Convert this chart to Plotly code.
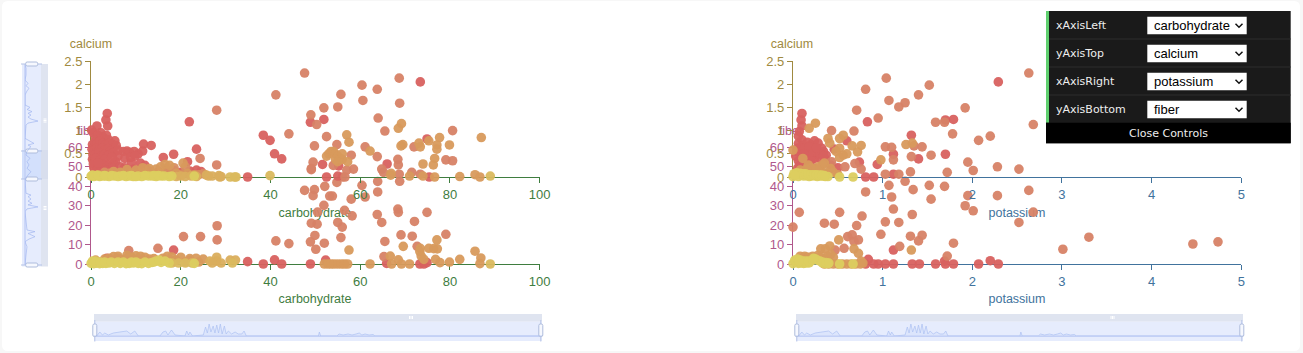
import plotly.graph_objects as go

# ---------- data: (x, y, tone) ; tone 0 red .. 3 gold ----------
left_top = [
 (3.6,1.37,0),(3.3,1.23,0),(3.7,1.10,0),(1.3,1.10,0),(.1,1.01,0),(2,.87,0),(5.3,.78,0),(11.7,.71,0),(13.4,.68,0),
 (.5,.95,0),(1,.85,0),(1.5,.9,0),(2.2,.95,0),(2.8,.85,0),(3.4,.9,0),(3.9,.8,0),(.3,.7,0),(.8,.75,0),(1.4,.72,0),(2,.78,0),
 (2.6,.72,0),(3.2,.7,0),(4,.72,0),(4.8,.7,0),(5.6,.68,0),(.2,.6,0),(.7,.58,0),(1.3,.62,0),(1.9,.6,0),(2.5,.62,0),(3.1,.58,0),
 (3.7,.6,0),(4.3,.55,0),(.4,.48,0),(1.1,.5,0),(1.8,.52,0),(2.4,.45,0),(3,.48,0),(3.8,.46,0),(.3,.38,0),(1,.4,0),(2,.36,0),(3,.38,0),
 (7.2,.55,0),(8,.56,0),(8.6,.53,0),(9.6,.55,0),(10.5,.5,0),(11.5,.56,0),(7.5,.4,0),(8.8,.42,0),(9.8,.45,0),(3,.27,0),(.6,.2,0),
 (4,.25,0),(5,.3,0),(5.5,.33,0),(11,.3,0),(12,.25,0),(9,.3,0),(18.5,.14,0),(20,.1,0),(21.5,.33,0),(22,.13,0),(23.5,.15,0),(24.5,.12,0),
 (21.9,1.19,0),(23.5,.6,0),(16.1,.42,0),(18.4,.49,0),(34.9,0,0),(38.4,.9,0),(39.9,.79,0),(40.9,.5,0),(42.5,.39,0),(48.9,1.18,0),(51.9,1.24,0),
 (73.4,2.05,0),(74.9,.82,0),(66,.28,0),(55.2,.24,0),(55,.02,0),(73.2,-.01,0),(75.4,0,0),(52.5,0,0),(51.6,.27,0),
 (.5,.28,0),(1.5,.22,0),(2.5,.18,0),(3.5,.15,0),(1,.12,0),(2,.1,0),(5,.2,0),(6.5,.22,0),(7.5,.2,0),(9.5,.17,0),(11,.18,0),(13,.13,0),(15,.12,0),(17,.1,0),(6,.45,0),(5,.52,0),(6,.58,0),(4.6,.42,0),(1.5,.3,0),
 (28,1.44,1),(24.3,.4,1),(28,.26,1),(47.6,2.24,1),(41.2,1.77,1),(44.1,.93,1),(49,1.34,1),(51.9,1.49,1),(50.3,1.13,1),(52.5,.87,1),(49.8,.67,1),(49.5,.32,1),(49.1,.18,1),
 (68.7,2.13,1),(60.4,1.98,1),(63.8,1.89,1),(55.7,1.78,1),(60.6,1.65,1),(68.8,1.59,1),(55,1.51,1),(64,1.27,1),(65.5,.99,1),(80.6,1,1),(54.8,.7,1),(61.1,.65,1),
 (63.8,.44,1),(58,.47,1),(72,.65,1),(79.1,.37,1),(80.6,.35,1),(68.4,.38,1),(68.5,.26,1),(64.8,.17,1),(65.2,.1,1),(68.7,.06,1),(71.5,.1,1),(73.4,.06,1),
 (58.5,.17,1),(57,.15,1),(56.6,0,1),(54,.25,1),
 (3,.1,1.5),(4,.08,1.5),(7,.08,1.5),(9,.08,1.5),(12,.09,1.5),(14,.06,1.5),(16,.08,1.5),(18,.06,1.5),(20,.05,1.5),(24,.05,1.5),(25,.07,1.5),(17,.15,1.5),(18.5,.2,1.5),(21,.22,1.5),
 (5,.12,2),(8,.16,2),(10,.15,2),(11.5,.2,2),(13,.18,2),(14.5,.17,2),(15.5,.22,2),(16.5,.27,2),(17.5,.25,2),(20.5,.3,2),(6.5,.1,2),(19,.08,2),(21.5,.08,2),(23,.05,2),
 (69.2,1.15,2),(68.5,1.05,2),(87,.85,2),(57,.91,2),(57.5,.75,2),(62.2,.56,2),(69.5,.7,2),(69.1,.67,2),(73.4,.65,2),(73.1,.73,2),(75.3,.78,2),(77.7,.85,2),(77.1,.69,2),(79.9,.69,2),(77.1,.6,2),
 (76.6,.4,2),(76.3,.26,2),(74,.28,2),(66.9,.08,2),(66.8,.04,2),(71,.02,2),(74,.02,2),(76.6,0,2),(82.2,.01,2),(85.6,.05,2),(86.7,0,2),
 (52.5,.45,2),(53,.5,2),(53.5,.55,2),(54,.55,2),(54.5,.5,2),(55,.45,2),(55.5,.4,2),(56,.38,2),(54.5,.38,2),(55,.33,2),(56,.5,2),(57.2,.33,2),
 (19,.01,2.4),(20,.02,2.4),(21,.01,2.4),(22.3,.02,2.4),(23.5,.01,2.4),(25.7,.04,2.4),(26.2,.02,2.4),(27,.02,2.4),(28.5,.03,2.4),(29,.01,2.4),(28.7,0,2.4),(31,0,2.6),(32,0,2.6),(32.3,0,2.6),(39.9,.03,2.6),(89,.02,2.6),
 (0,.02,3),(.6,.01,3),(1.2,.03,3),(1.9,.01,3),(2.6,.02,3),(3.3,.02,3),(4,.01,3),(5.2,.02,3),(6.5,.02,3),(7.8,.01,3),(8.5,.02,3),(9.4,.01,3),(10.5,.02,3),(11.3,.01,3),(12.8,.02,3),(13.6,.02,3),(14.5,.01,3),(15.6,.02,3),(17.4,.01,3),(23,.02,3),
 (.3,.04,3),(1.5,.04,3),(3,.03,3),(4.6,.03,3),(6,.01,3),(7.2,.03,3),(9,.03,3),(10,.01,3),(12,.03,3),(14,.03,3),(15,.03,3),(16.3,.02,3),(18,.02,3),
]
left_bottom = [
 (18.4,7.2,0),(34.9,1.2,0),(38.4,0,0),(40.9,2.1,0),(42.5,0,0),(48.9,0,0),(3.5,3,0),(18.5,1.5,0),(22,2,0),(65.9,.3,0),(73.3,0,0),(74.2,0,0),(74.9,.7,0),(52.3,2,0),
 (8.4,6.9,1),(14.9,8.1,1),(20.6,14.1,1),(24.4,14.1,1),(28.1,19.7,1),(28.1,12.4,1),(41.2,11.9,1),(44.1,10.5,1),(47.6,37.9,1),(49.8,38.3,1),(49.5,35.2,1),(52.1,40,1),(51.9,30.2,1),(50.5,26.7,1),
 (49.1,21,1),(50.4,20.5,1),(49.9,14.7,1),(48.9,11.4,1),(52,10.7,1),(50.1,7.6,1),(53.2,35,1),(60.4,40.5,1),(63.9,37.1,1),(61.1,34.5,1),(58,33.4,1),(53.8,35,1),(68.4,28.3,1),(68.5,26.6,1),
 (63.8,25.5,1),(74.9,26.6,1),(58.2,24.8,1),(56.5,27.6,1),(64.8,21.4,1),(72.1,21.9,1),(55,21.4,1),(56,19,1),(55.7,13.6,1),(69.1,15,1),(71.6,14.3,1),(79.1,15.3,1),(65.5,11.6,1),(72.7,9.1,1),(65.3,3.8,1),
 (63.9,42.5,1),(68.8,42.6,1),(54.8,42,1),(56,44.8,1),(49.1,48.6,1),
 (2,1,2),(3,2.5,2),(4,3,2),(5,3.8,2),(6,3,2),(7,2,2),(8,3,2),(9,3.5,2),(10,4.2,2),(11,4,2),(12,3.5,2),(13,2.5,2),(14,2.8,2),(16,3,2),(18,3.6,2),(19,2,2),(21,1,2),(22,2.8,2),(23.4,3,2),(24,1,2),(25,2.5,2),
 (1,2,2),(6,4,2),(8,4.5,2),(17,4,2),(20,3.5,2),
 (77.1,12.4,2),(69.6,9.1,2),(57.5,7.2,2),(85.6,6.6,2),(86.9,3.1,2),(73.4,8.1,2),(75.3,8.1,2),(76.4,7.9,2),(77.2,7.8,2),(73.3,6.4,2),(73.6,4.1,2),(74.2,2.4,2),(66.7,4.1,2),(68.5,2.1,2),(82.2,2.4,2),(76.8,2.4,2),(79.9,1,2),(77.8,.7,2),(86.7,.2,2),
 (62.2,0,2),(67,0,2),(69.2,0,2),(71,0,2),(52,0,2),(52.8,0,2),(53.5,0,2),(54.2,0,2),(55,0,2),(55.8,0,2),(56.5,0,2),(57.2,0,2),
 (26.5,1.5,2.4),(28,3.5,2.4),(28,1.5,2.4),(31,2,2.4),(32.2,2,2.4),(31.5,.5,2.6),(27,.5,2.4),(29,.5,2.4),(89,0,2.6),
 (18,.5,2.6),(19.5,.5,2.6),(21,.5,2.6),(22.5,.5,2.6),
 (0,.3,3),(.6,.2,3),(1.2,.4,3),(1.9,.2,3),(2.6,.3,3),(3.3,.3,3),(4,.5,3),(5.2,.3,3),(6.5,.3,3),(7.8,.2,3),(8.5,.3,3),(9.4,.5,3),(10.5,.3,3),(11.3,.2,3),(12.8,.3,3),(13.6,.8,3),(14.5,1.5,3),(15.6,.8,3),(17.4,.5,3),(23,.3,3),
 (.3,1.5,3),(1,1.5,3),(2,1,3),(3,1,3),(4.5,1,3),(6,1,3),(7.2,1,3),(9,1,3),(10,1,3),(12,1,3),(14,1,3),(15.2,2,3),(16.5,1.5,3),
]
right_top = [
 (.1,1.37,0),(.09,1.23,0),(.1,1.1,0),(.07,.98,0),(.06,.88,0),(.1,.8,0),(.16,.75,0),(.06,.72,0),(.12,.68,0),(.2,.7,0),(.24,.78,0),(.28,.73,0),(.32,.62,0),(.05,.62,0),(.09,.55,0),(.15,.58,0),(.22,.6,0),(.27,.5,0),(.34,.55,0),(.37,.47,0),
 (.1,.45,0),(.16,.42,0),(.24,.4,0),(.3,.4,0),(.36,.38,0),(.06,.35,0),(.13,.33,0),(.46,.6,0),(.42,.26,0),(.5,.2,0),(.6,.78,0),(.83,1.19,0),(2.29,2.05,0),(1.79,1.24,0),(1.7,1.23,0),(1.32,.9,0),(1.12,.49,0),(.94,.27,0),(1.4,.39,0),(1.7,.49,0),(1.12,.06,0),(.81,0,0),(.9,0,0),(.74,.32,0),
 (.03,.45,0),(.04,.55,0),(.08,.63,0),(.13,.62,0),(.18,.65,0),(.2,.5,0),(.24,.55,0),(.3,.5,0),(.26,.63,0),(.34,.45,0),(.18,.48,0),(.12,.5,0),(.07,.25,0),(.1,.2,0),(.05,.18,0),(.2,.35,0),
 (1.04,2.13,1),(.81,1.89,1),(1.52,1.98,1),(1.4,1.77,1),(1.25,1.6,1),(1.18,1.51,1),(1.07,1.65,1),(.71,1.44,1),(.95,1.27,1),(2.63,2.24,1),(2.68,1.13,1),(1.92,1.49,1),(1.69,1.18,1),(1.59,1.18,1),(1.78,.93,1),(2.07,.79,1),(2.2,.88,1),(1.35,.67,1),(1.44,.65,1),
 (1.03,.65,1),(1.1,.64,1),(1.12,.37,1),(1.32,.44,1),(1.54,.47,1),(1.95,.32,1),(2.01,.14,1),(2.28,.22,1),(2.52,.17,1),(1.72,.1,1),(1.31,.11,1),(1.18,.06,1),(1.03,.06,1),(.43,1,1),(.68,.99,1),(.69,.29,1),(.76,.17,1),(.43,.33,1),(.58,.22,1),
 (1.33,.73,2),(1.26,.7,2),(.98,.37,2),(.25,1.16,2),(.18,1.05,2),(.56,.9,2),(.52,.83,2),(.39,.83,2),(.41,.73,2),(.76,.68,2),(.66,.67,2),(.72,.54,2),(.52,.62,2),(.56,.47,2),(.52,.42,2),(.6,.5,2),(.48,.55,2),(.33,.26,2),(.17,.26,2),(.11,.4,2),(0,.58,2),(.25,.18,2),(.3,.15,2),(.12,.12,2),(.18,.1,2),(.05,.08,2),(.1,.05,2),(.22,.06,2),(.35,.08,2),(.45,.1,2),(.5,.05,2),
 (.38,.08,2),(.28,.22,2),(.35,.3,2),(.2,.2,2),(.15,.17,2),(.08,.15,2),(.42,.18,2),
 (0,.01,3),(.03,.04,3),(.06,.01,3),(.09,.04,3),(.12,.02,3),(.15,.03,3),(.18,.01,3),(.21,.02,3),(.24,.03,3),(.27,.01,3),(.3,.02,3),(.33,.02,3),(.36,.01,3),(.39,.01,3),(.52,0,3),(.67,0,3),
 (.01,.07,3),(.04,.09,3),(.08,.08,3),(.11,.07,3),(.14,.07,3),(.17,.05,3),(.2,.05,3),(.23,.05,3),(.26,.05,3),(.29,.04,3),(.32,.04,3),(.35,.03,3),(.02,.04,3),
]
right_bottom = [
 (.95,0,0),(1.03,0,0),(1.12,0,0),(1.33,0,0),(1.41,0,0),(1.59,0,0),(1.7,0,0),(1.79,0,0),(2.07,0,0),(2.29,0,0),(.81,0,0),(.9,0,0),(.84,2.4,0),(2.2,1.7,0),(1.12,7.2,0),(1.69,1.5,0),
 (.81,37.1,1),(1.07,40.5,1),(1.1,34.5,1),(1.25,42.6,1),(1.34,38.3,1),(1.52,40.5,1),(1.69,40,1),(1.54,33.4,1),(1.95,35.2,1),(2.28,35.2,1),(2.63,37.9,1),(1.92,30,1),(2.01,27.4,1),(2.68,26.7,1),(2.52,21.4,1),(1.33,25.5,1),(1.12,28.3,1),
 (.77,24.7,1),(.52,26.6,1),(.07,26.6,1),(0,19,1),(.35,21,1),(.46,20.5,1),(.71,19.8,1),(1.03,21.7,1),(1.18,21.4,1),(.98,15.3,1),(1.31,14.3,1),(1.44,14.8,1),(1.4,11.9,1),(1.79,10.7,1),(1.19,9.1,1),(.61,14.1,1),(.66,15,1),(.73,12.4,1),(.68,11.6,1),(.57,8.1,1),(.47,7.2,1),
 (1.72,4.1,1),(3.01,7.6,1),(3.3,13.8,1),(4.46,10.3,1),(4.74,11.4,1),
 (1.32,7.2,2),(.51,12.4,2),(.68,7.8,2),(.73,5.5,2),(.41,9.3,2),(.31,7.8,2),(.36,7.8,2),(.05,2,2),(.1,3,2),(.15,3.5,2),(.2,2,2),(.25,3,2),(.3,3.5,2),(.35,2.5,2),(.4,1.5,2),(.45,3.5,2),(.05,1,2),(.42,5,2),(.1,1.5,2),
 (.08,4,2),(.13,4,2),(.18,3.5,2),(.22,4,2),(.28,4.5,2),(.33,3,2),(.38,4,2),
 (.35,0,2),(.4,0,2),(.45,0,2),(.5,0,2),(.55,0,2),(.6,0,2),(.65,0,2),(.7,0,2),(.75,0,2),(.76,1.5,2),(.78,.5,2),
 (0,.2,3),(.03,1,3),(.06,.3,3),(.09,.5,3),(.12,.3,3),(.15,.5,3),(.18,.6,3),(.2,1.5,3),(.25,2.5,3),(.3,1.5,3),(.33,.4,3),(.36,.2,3),(.39,.2,3),(.52,0,3),(.67,0,3),
 (.02,2,3),(.05,2.5,3),(.08,2,3),(.11,1.5,3),(.14,1.5,3),(.17,1.5,3),(.22,2,3),(.27,2,3),(.33,1,3),(.37,.8,3),(.4,.5,3),(.07,1.5,3),(.23,3,3),
]
calcium_ticks = [0, .5, 1, 1.5, 2, 2.5]
calcium_labels = ["0", "0.5", "1", "1.5", "2", "2.5"]
fiber_ticks = [0, 10, 20, 30, 40, 50, 60]
carb_ticks = [0, 20, 40, 60, 80, 100]
potassium_ticks = [0, 1, 2, 3, 4, 5]

spark_h_pos = [0,.6,1.3,1.9,2.4,3.2,4.3,5.2,6.2,7.3,8.2,9.1,9.9,14.7,15.4,16,16.5,17.3,18.1,20.3,20.7,21.1,21.4,22,24.4,24.9,25.3,25.7,26.1,26.6,27,27.4,27.8,28.2,28.6,29.1,29.5,30,30.7,31.5,32.2,33,33.5,34,50.1,50.3,50.6,54.2,54.7,55.6,56.7,57.6,58.5,59.2,59.8,60.5,61.4,62.3,62.7,100]
spark_h_val = [0,0,4,1,3,1,3,3.5,4,5,2,5,0,0,4,5,1,6,1,0,5,1,4,0,1,9,3,12,4,10,3,11,3,12,2,10,2,5,2,4,2,2,5,0,0,4,0,0,2,1,2,1,2,3,1,2,1,1.5,0,0]
spark_v_pos = [.5,2.1,5.5,8,9.6,10.8,12.1,13.4,15.4,20.4,21.6,22.6,23.7,24.5,25.4,26.4,27.4,28.4,29.4,30.4,37,39.5,40.3,41.1,42,43.6,45.3,46.9,48.6,50.2,51.9,53.6,55.2,57.7,64.3,65.2,66,67.2,68.2,69.3,70.1,71.1,72.1,73.5,82.6,83.4,84.3,85.9,87.1,88.4,90.9,93.4,95,100]
spark_v_val = [0,1,1,0,3,1,4,2,0,0,5,2,7,3,6,3,6,13,3,1,0,9,3,6,4,2,1,5,2,4,2,6,3,0,1,6,3,6,3,7,3,13,2,0,2,10,3,10,4,0,2,1,1,0]

selectors = [("xAxisLeft", "carbohydrate"), ("yAxisTop", "calcium"), ("xAxisRight", "potassium"), ("yAxisBottom", "fiber")]

# ---------- styling ----------
W, H = 1303, 353
GREEN, GOLD, PINK, BLUE = "#3f7d3f", "#a08a40", "#b0588c", "#41739d"
FONT = "Liberation Sans"
TONES = [[0, "#d8615f"], [1/3, "#d78266"], [2/3, "#d89a5c"], [1, "#dccd5f"]]

def dx(a, b): return [a / W, b / W]
def dy(top, bottom): return [1 - bottom / H, 1 - top / H]

fig = go.Figure()
layout = dict(
    template="none",
    width=W, height=H, margin=dict(l=0, r=0, t=0, b=0, pad=0), autosize=False, showlegend=False,
    paper_bgcolor="#f7f7f7", plot_bgcolor="rgba(0,0,0,0)", font=dict(family=FONT, size=12),
    xaxis=dict(domain=[0, 1], range=[0, W], visible=False, fixedrange=True),
    yaxis=dict(domain=[0, 1], range=[H, 0], visible=False, fixedrange=True),
)

# base pixel layer: axis names sit under every point
names = [(91, 45, "calcium", GOLD), (792, 45, "calcium", GOLD), (89, 131.5, "fiber", PINK), (791, 131.5, "fiber", PINK),
         (315, 213.5, "carbohydrate", GREEN), (315, 300, "carbohydrate", GREEN), (1017, 213.5, "potassium", BLUE), (1017, 300, "potassium", BLUE)]
for x, y, t, c in names:
    fig.add_trace(go.Scatter(x=[x], y=[y], text=[t], mode="text", textfont=dict(color=c, size=12.5, family=FONT),
                             textposition="middle center", hoverinfo="skip", cliponaxis=False))

def axis(color, ticks, labels, dom, rng, anchor, **kw):
    return dict(domain=dom, range=rng, anchor=anchor, tickmode="array", tickvals=ticks, ticktext=labels, automargin=False,
                showgrid=False, zeroline=False, showline=True, linecolor=color, linewidth=1.2, layer="below traces",
                ticks="outside", ticklen=5, tickcolor=color, tickwidth=1.2,
                tickfont=dict(color=color, size=13, family=FONT), fixedrange=True, **kw)

LX, RX = dx(91.1, 539.6), dx(793, 1241.3)
TOP, BOT = dy(61, 177), dy(147.5, 264)
panels = [
    (2, left_bottom, LX, BOT, GREEN, carb_ticks, [0, 100], PINK, fiber_ticks, [0, 60]),
    (3, right_bottom, RX, BOT, BLUE, potassium_ticks, [0, 5], PINK, fiber_ticks, [0, 60]),
    (4, left_top, LX, TOP, GREEN, carb_ticks, [0, 100], GOLD, calcium_ticks, [0, 2.5]),
    (5, right_top, RX, TOP, BLUE, potassium_ticks, [0, 5], GOLD, calcium_ticks, [0, 2.5]),
]
for n, pts, xd, yd, xc, xt, xr, yc, yt, yr in panels:
    layout[f"xaxis{n}"] = axis(xc, xt, [str(v) for v in xt], xd, xr, f"y{n}")
    ylab = calcium_labels if yt is calcium_ticks else [str(v) for v in yt]
    layout[f"yaxis{n}"] = axis(yc, yt, ylab, yd, yr, f"x{n}")
    fig.add_trace(go.Scatter(
        x=[p[0] for p in pts], y=[p[1] for p in pts], xaxis=f"x{n}", yaxis=f"y{n}", mode="markers", cliponaxis=False,
        marker=dict(size=9.6, opacity=.95, line=dict(width=0), color=[p[2] for p in pts], cmin=0, cmax=3, colorscale=TONES),
        hoverinfo="x+y"))

# ---------- slider sparklines ----------
SPARK = dict(mode="lines", line=dict(color="#aec1f2", width=.7, shape="linear"), fill="tozeroy",
             fillcolor="rgba(165,188,245,.14)", hoverinfo="skip")
def plain(dom, rng, anchor):
    return dict(domain=dom, range=rng, anchor=anchor, visible=False, fixedrange=True)

for n, (a, b) in zip((6, 7), ((94, 542), (796, 1243))):
    layout[f"xaxis{n}"] = plain(dx(a, b), [0, 100], f"y{n}")
    layout[f"yaxis{n}"] = plain(dy(322, 336), [0, 14], f"x{n}")
    fig.add_trace(go.Scatter(x=spark_h_pos, y=spark_h_val, xaxis=f"x{n}", yaxis=f"y{n}", **SPARK))
layout["xaxis8"] = plain(dx(25, 38), [0, 13], "y8")
layout["yaxis8"] = plain(dy(64, 265), [100, 0], "x8")
fig.add_trace(go.Scatter(x=spark_v_val, y=spark_v_pos, xaxis="x8", yaxis="y8", mode="lines",
                         line=dict(color="#a3b8f0", width=.7), hoverinfo="skip"))

# ---------- shapes in page pixels ----------
shapes = []
def rect(x0, y0, x1, y1, fill, line=None, lw=0, layer="below"):
    shapes.append(dict(type="rect", xref="x", yref="y", x0=x0, y0=y0, x1=x1, y1=y1, fillcolor=fill,
                       line=dict(color=line or fill, width=lw), layer=layer))
def seg(x0, y0, x1, y1, color, lw=1, layer="below"):
    shapes.append(dict(type="line", xref="x", yref="y", x0=x0, y0=y0, x1=x1, y1=y1, line=dict(color=color, width=lw), layer=layer))
def rr(x0, y0, x1, y1, r, fill, line, lw=1, layer="below"):
    p = (f"M{x0+r},{y0} L{x1-r},{y0} Q{x1},{y0} {x1},{y0+r} L{x1},{y1-r} Q{x1},{y1} {x1-r},{y1} "
         f"L{x0+r},{y1} Q{x0},{y1} {x0},{y1-r} L{x0},{y0+r} Q{x0},{y0} {x0+r},{y0} Z")
    shapes.append(dict(type="path", xref="x", yref="y", path=p, fillcolor=fill, line=dict(color=line, width=lw), layer=layer))

rr(2, 1, 1300, 351, 6, "#ffffff", "#ffffff", 0)

BAND, BODY, EDGE = "#dfe4f0", "#e6ecfd", "#b5c3e6"
for a, b in ((94, 542), (796, 1243)):
    rect(a, 314, b, 321.7, BAND)
    rect(a, 321.7, b, 341, BODY)
    seg(a, 336.3, b, 336.3, "#c3d0f6", 1.5)
    mid = (a + b) / 2 + 93
    for k in (-1.5, 0, 1.5):
        seg(mid + k, 316, mid + k, 319, "#ffffff", 1)
    for h in (a + .8, b - 1.2):
        seg(h, 320, h, 341.5, EDGE, 1)
        rr(h - 2, 324, h + 2, 336.5, 1.5, "#f6f8fe", "#aebcdc", 1)

rect(22, 64, 41, 266.5, BODY)
rect(41, 64, 48, 266.5, BAND)
rect(22, 150, 41, 179, "#d3e0fc")
rect(41, 150, 48, 179, "#d8deed")
seg(25, 64, 25, 265, "#c3d0f6", 1.5)
for gy in (120.5, 208):
    for k in (-1.5, 0, 1.5):
        seg(43.5, gy + k, 46.5, gy + k, "#ffffff", 1)
for gy in (64, 151, 179, 265):
    seg(21, gy, 42, gy, EDGE, 1)
    rr(25.7, gy - 2, 37.7, gy + 2, 1.5, "#f6f8fe", "#aebcdc", 1)

# control panel, above the points
PX0, PX1, PY0, PY1 = 1046, 1290.7, 11, 143.3
rect(PX0, PY0, PX1, PY1, "#1a1a1a", layer="above")
rect(PX0, PY0, 1049, 122.7, "#5fcf6e", layer="above")
rect(PX0, 122.7, PX1, PY1, "#000000", layer="above")
notes = []
for i, (lab, val) in enumerate(selectors):
    top = 16.7 + 28 * i
    if i:
        seg(1049, top - 5.7, PX1, top - 5.7, "#2c2c2c", 1, "above")
    rect(1147.3, top, 1246.7, top + 17.6, "#ffffff", layer="above")
    cy = top + 8.8
    shapes.append(dict(type="path", xref="x", yref="y", path=f"M1235.5,{cy-1.7} L1239,{cy+1.7} L1242.5,{cy-1.7}",
                       line=dict(color="#111111", width=1.5), layer="above"))
    notes.append(dict(x=1054, y=cy, xref="x", yref="y", text=lab, showarrow=False, xanchor="left", yanchor="middle",
                      font=dict(family="DejaVu Sans", size=11, color="#eeeeee")))
    notes.append(dict(x=1152, y=cy, xref="x", yref="y", text=val, showarrow=False, xanchor="left", yanchor="middle",
                      font=dict(family=FONT, size=13, color="#000000")))
notes.append(dict(x=1168.5, y=133, xref="x", yref="y", text="Close Controls", showarrow=False, xanchor="center", yanchor="middle",
                  font=dict(family="DejaVu Sans", size=11, color="#eeeeee")))

fig.update_layout(**layout, shapes=shapes, annotations=notes)
fig.write_html("out.html", config=dict(displayModeBar=False),
               post_script="document.body.style.margin='0';document.body.style.overflow='hidden';")
